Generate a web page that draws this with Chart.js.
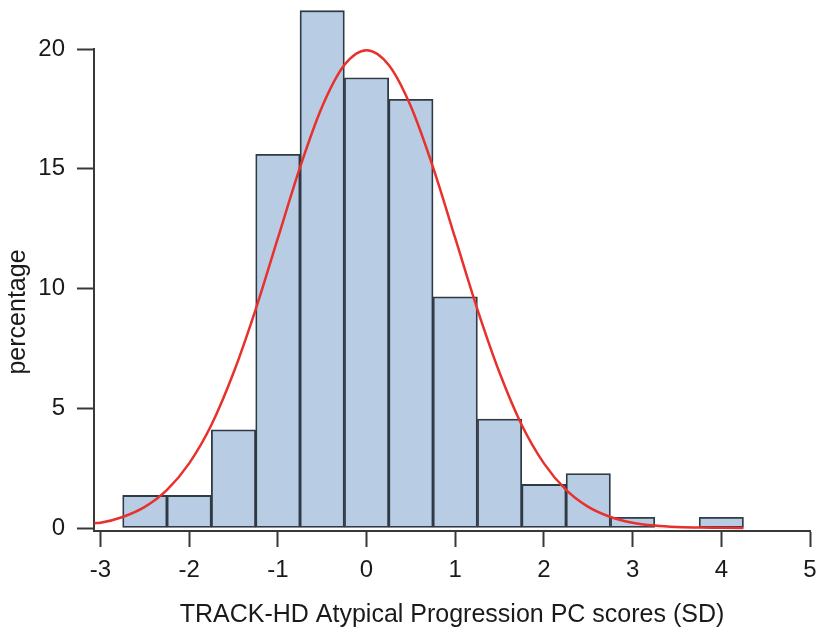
<!DOCTYPE html>
<html>
<head>
<meta charset="utf-8">
<script src="https://cdn.jsdelivr.net/npm/chart.js@4/dist/chart.umd.min.js"></script>
<style>
  html, body { margin: 0; padding: 0; background: #ffffff; }
  #wrap { width: 818px; height: 632px; }
</style>
</head>
<body>
<div id="wrap"><canvas id="c" width="818" height="632"></canvas></div>
<script>
// Histogram bins (centres, width 0.5) and percentage per bin
const binCenters = [-2.5, -2.0, -1.5, -1.0, -0.5, 0.0, 0.5, 1.0, 1.5, 2.0, 2.5, 3.0, 3.5, 4.0];
const binPercent = [1.36, 1.36, 4.1, 15.6, 21.6, 18.8, 17.9, 9.65, 4.55, 1.82, 2.27, 0.45, 0, 0.45];

// Fitted normal curve
const curveX = [-3.07, -3.0, -2.75, -2.5, -2.25, -2.0, -1.75, -1.5, -1.25, -1.0, -0.75, -0.5, -0.25, 0.0,
                0.25, 0.5, 0.75, 1.0, 1.25, 1.5, 1.75, 2.0, 2.25, 2.5, 2.75, 3.0, 3.25, 3.5, 3.75, 4.0, 4.25];
const curveY = [0.2, 0.22, 0.46, 0.88, 1.59, 2.70, 4.30, 6.48, 9.13, 12.10, 15.06, 17.60, 19.33, 19.95,
                19.33, 17.60, 15.06, 12.10, 9.13, 6.48, 4.30, 2.70, 1.59, 0.88, 0.46, 0.22, 0.10, 0.04, 0.02, 0.01, 0.00];

// Axis tick labels
const xTicks = [-3, -2, -1, 0, 1, 2, 3, 4, 5];
const yTicks = [0, 5, 10, 15, 20];

const xTitle = 'TRACK-HD Atypical Progression PC scores (SD)';
const yTitle = 'percentage';

const FONT = "'Liberation Sans', Arial, Helvetica, sans-serif";
const AXIS_COLOR = '#383838';
const TEXT_COLOR = '#1a1a1a';

// Y-axis title drawn centred on the full plot region (as in the R original)
const yTitlePlugin = {
  id: 'yTitlePlugin',
  afterDraw(chart) {
    const t = chart.options.scales.y.title;
    const area = chart.chartArea;
    const c = chart.ctx;
    c.save();
    c.translate(18, (area.top + area.bottom) / 2 + 22);
    c.rotate(-Math.PI / 2);
    c.textAlign = 'center';
    c.textBaseline = 'middle';
    c.fillStyle = TEXT_COLOR;
    c.font = "25px " + FONT;
    c.fillText(t.text, 0, 0);
    c.restore();
  }
};

const ctx = document.getElementById('c').getContext('2d');
new Chart(ctx, {
  type: 'bar',
  plugins: [yTitlePlugin],
  data: {
    datasets: [
      {
        type: 'line',
        label: 'normal',
        data: curveX.map((x, i) => ({ x: x, y: curveY[i] })),
        borderColor: '#e8312c',
        borderWidth: 2.5,
        pointRadius: 0,
        fill: false,
        cubicInterpolationMode: 'monotone',
        clip: false,
        order: 0
      },
      {
        type: 'bar',
        label: 'percentage',
        data: binCenters.map((x, i) => ({ x: x, y: binPercent[i] })),
        backgroundColor: '#b8cce4',
        borderColor: '#2f3a45',
        borderWidth: (c) => (c.raw && c.raw.y === 0 ? 0 : 1.8),
        borderSkipped: false,
        barPercentage: 1.0,
        categoryPercentage: 1.0,
        grouped: false,
        clip: false,
        order: 1
      }
    ]
  },
  options: {
    responsive: false,
    animation: false,
    events: [],
    layout: { padding: { left: 0, right: 8, top: 49, bottom: 0 } },
    plugins: {
      legend: { display: false },
      tooltip: { enabled: false },
      title: { display: false }
    },
    scales: {
      x: {
        type: 'linear',
        position: 'bottom',
        min: -3.073,
        max: 5,
        offset: false,
        afterBuildTicks: (s) => { s.ticks = xTicks.map(v => ({ value: v })); },
        afterFit: (s) => { s.height = 101; s.paddingLeft = 0; s.paddingRight = 0; },
        ticks: {
          includeBounds: false,
          autoSkip: false,
          maxRotation: 0,
          padding: 9,
          color: TEXT_COLOR,
          font: { family: FONT, size: 24 },
          callback: (v) => String(v)
        },
        grid: {
          display: true,
          offset: false,
          drawOnChartArea: false,
          drawTicks: true,
          tickLength: 16,
          tickWidth: 2,
          tickColor: AXIS_COLOR,
          color: AXIS_COLOR
        },
        border: { display: true, color: AXIS_COLOR, width: 2 },
        title: {
          display: true,
          text: xTitle,
          color: TEXT_COLOR,
          font: { family: FONT, size: 25, lineHeight: 1.2 },
          padding: { top: 0, bottom: 2 }
        }
      },
      y: {
        type: 'linear',
        position: 'left',
        min: -0.125,
        max: 20,
        afterBuildTicks: (s) => { s.ticks = yTicks.map(v => ({ value: v })); },
        afterFit: (s) => { s.width = 94; s.paddingTop = 0; s.paddingBottom = 0; },
        ticks: {
          includeBounds: false,
          padding: 12,
          color: TEXT_COLOR,
          font: { family: FONT, size: 24 },
          callback: (v) => String(v)
        },
        grid: {
          display: true,
          offset: false,
          drawOnChartArea: false,
          drawTicks: true,
          tickLength: 17,
          tickWidth: 2,
          tickColor: AXIS_COLOR,
          color: AXIS_COLOR
        },
        border: { display: true, color: AXIS_COLOR, width: 2 },
        title: {
          display: false,
          text: yTitle
        }
      }
    }
  }
});
</script>
</body>
</html>
